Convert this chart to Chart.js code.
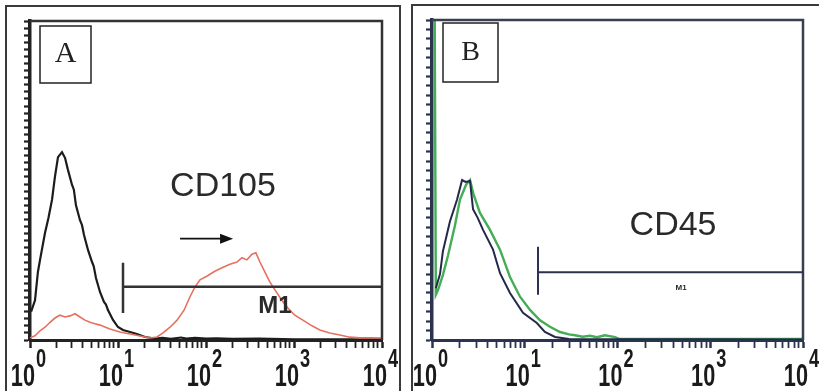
<!DOCTYPE html>
<html>
<head>
<meta charset="utf-8">
<script src="https://cdn.jsdelivr.net/npm/chart.js@4.4.1/dist/chart.umd.min.js"></script>
<style>
html, body { margin: 0; padding: 0; background: #fff; overflow: hidden; }
body { width: 819px; height: 391px; position: relative; }
.frame { position: absolute; border: 2px solid #3a3a3a; box-sizing: border-box; }
.wrap { position: absolute; }
</style>
</head>
<body>
<div class="frame" style="left:5px; top:5px; width:396px; height:420px;"></div>
<div class="frame" style="left:411px; top:4px; width:430px; height:420px;"></div>
<div class="wrap" style="left:6px; top:6px; width:392px; height:385px;"><canvas id="chartA"></canvas></div>
<div class="wrap" style="left:413px; top:6px; width:406px; height:385px;"><canvas id="chartB"></canvas></div>
<script>
// axis labels
const decades = [1, 10, 100, 1000, 10000];
const exponents = ['0', '1', '2', '3', '4'];

// Panel A - isotype control (black) and CD105 (red)
const ctrlA_x = [1.03, 1.14, 1.23, 1.30, 1.48, 1.62, 1.78, 1.92, 2.08, 2.31, 2.50, 2.70, 3.0, 3.15, 3.33, 3.70, 3.9, 4.11, 4.56, 5.07, 5.3, 5.62, 6.24, 6.93, 7.3, 7.69, 8.77, 9.99, 11.4, 13.7, 16.4, 20.3, 26.3, 32, 40, 52, 60, 75, 100, 130, 200, 400, 1000, 10000];
const ctrlA_y = [4.0, 5.6, 9.6, 11.3, 15.1, 17.2, 19.8, 23.0, 25.8, 26.5, 25.7, 24.0, 21.9, 21.2, 19.0, 16.9, 16.2, 14.8, 12.7, 11.0, 10.4, 8.75, 6.77, 5.36, 5.0, 4.23, 2.82, 1.83, 1.41, 1.13, 0.85, 0.42, 0.2, 0.3, 0.15, 0.35, 0.2, 0.3, 0.2, 0.25, 0.15, 0.2, 0.1, 0.1];
const cd105_x = [1.0, 1.14, 1.30, 1.48, 1.69, 1.92, 2.19, 2.50, 2.85, 3.25, 3.70, 4.21, 4.81, 5.47, 6.24, 8.10, 10.5, 13.7, 17.8, 23.1, 27.7, 32.5, 39.0, 46.9, 56.3, 65.8, 75, 85.5, 102, 126, 152, 187, 225, 256, 292, 333, 369, 410, 466, 531, 605, 727, 852, 1022, 1260, 1600, 1965, 2553, 3316, 4310, 5600, 7270, 10000];
const cd105_y = [0.3, 0.6, 1.3, 1.8, 2.5, 3.1, 3.5, 3.25, 3.4, 3.7, 3.25, 2.8, 2.5, 2.3, 2.1, 1.55, 1.13, 0.85, 0.56, 0.28, 0.42, 1.0, 1.8, 2.8, 4.2, 6.1, 7.5, 8.5, 9.0, 9.7, 10.2, 10.7, 11.0, 11.6, 11.3, 12.1, 12.3, 11.0, 9.6, 8.2, 7.1, 5.6, 4.5, 3.5, 2.8, 2.0, 1.4, 1.0, 0.7, 0.4, 0.3, 0.3, 0.28];

// Panel B - isotype control (navy) and CD45 (green)
const ctrlB_x = [1.1, 1.22, 1.31, 1.56, 1.86, 2.11, 2.3, 2.57, 2.77, 3.1, 3.55, 4.55, 5.41, 6.93, 9.57, 13.5, 16.5, 21.2, 30, 10000];
const ctrlB_y = [5.5, 7.0, 9.4, 12.6, 14.9, 17.0, 16.8, 16.9, 13.9, 13.0, 11.7, 9.6, 7.1, 5.0, 2.9, 1.8, 0.85, 0.32, 0.1, 0.05];
const cd45_x = [1.0, 1.064, 1.10, 1.16, 1.31, 1.49, 1.77, 2.0, 2.33, 2.57, 2.8, 3.29, 4.22, 5.41, 6.93, 8.89, 11.4, 14.6, 18.7, 24, 30, 34.8, 42, 50.5, 60, 73.3, 94, 106, 200, 10000];
const cd45_y = [40, 40, 4.8, 5.3, 6.9, 9.0, 12.2, 14.9, 16.5, 17.0, 15.5, 13.5, 11.7, 9.6, 6.7, 4.6, 3.2, 2.1, 1.4, 0.85, 0.6, 0.5, 0.35, 0.45, 0.3, 0.5, 0.3, 0.1, 0.1, 0.1];

const sans = '"Liberation Sans", Arial, sans-serif';
const serif = '"Liberation Serif", "Times New Roman", serif';

const axisTicks = [];
decades.slice(0, 4).forEach(d => { for (let k = 1; k <= 9; k++) axisTicks.push(d * k); });
axisTicks.push(10000);

function pts(xs, ys) {
  return xs.map((v, i) => ({ x: v, y: ys[i] }));
}

// condensed text: the cytometer labels are narrow and tall
function narrowText(ctx, text, x, y, size, align) {
  ctx.save();
  ctx.translate(x, y);
  ctx.scale(0.7, 1);
  ctx.font = 'bold ' + size + 'px ' + sans;
  ctx.textAlign = align;
  ctx.fillText(text, 0, 0);
  ctx.restore();
}

const panelPlugin = {
  id: 'panel',
  afterDraw(chart, args, o) {
    const { ctx, chartArea: a } = chart;
    const x = chart.scales.x, y = chart.scales.y;
    ctx.save();

    // top and right of the plot frame
    ctx.strokeStyle = o.frameColor;
    ctx.lineWidth = 2.5;
    ctx.beginPath();
    ctx.moveTo(a.left, a.top);
    ctx.lineTo(a.right, a.top);
    ctx.lineTo(a.right, a.bottom);
    ctx.stroke();

    // panel letter
    ctx.lineWidth = 1.5;
    ctx.strokeStyle = '#222';
    ctx.strokeRect(a.left + o.box[0], a.top + o.box[1], o.box[2], o.box[3]);
    ctx.fillStyle = '#222';
    ctx.font = o.letterSize + 'px ' + serif;
    ctx.textAlign = 'center';
    ctx.textBaseline = 'middle';
    ctx.fillText(o.letter, a.left + o.box[0] + o.box[2] / 2, a.top + o.box[1] + o.box[3] / 2);

    // marker name
    ctx.font = '34px ' + sans;
    ctx.fillStyle = '#2a2a2a';
    ctx.fillText(o.marker, x.getPixelForValue(o.markerAt[0]), y.getPixelForValue(o.markerAt[1]));

    // M1 gate
    const g = o.gate;
    const gx = x.getPixelForValue(g.from);
    ctx.strokeStyle = g.color;
    ctx.lineWidth = g.width;
    ctx.beginPath();
    ctx.moveTo(gx, y.getPixelForValue(g.hi));
    ctx.lineTo(gx, y.getPixelForValue(g.lo));
    ctx.moveTo(gx, y.getPixelForValue(g.level));
    ctx.lineTo(x.getPixelForValue(g.to), y.getPixelForValue(g.level));
    ctx.stroke();
    ctx.font = g.font;
    ctx.fillStyle = '#2a2a2a';
    ctx.fillText('M1', x.getPixelForValue(g.labelAt[0]), y.getPixelForValue(g.labelAt[1]));

    // arrow
    if (o.arrow) {
      const ax0 = x.getPixelForValue(o.arrow[0]);
      const ax1 = x.getPixelForValue(o.arrow[1]);
      const ay = y.getPixelForValue(o.arrow[2]);
      ctx.strokeStyle = '#111';
      ctx.lineWidth = 1.8;
      ctx.beginPath();
      ctx.moveTo(ax0, ay);
      ctx.lineTo(ax1 - 8, ay);
      ctx.stroke();
      ctx.fillStyle = '#111';
      ctx.beginPath();
      ctx.moveTo(ax1, ay);
      ctx.lineTo(ax1 - 13, ay - 5);
      ctx.lineTo(ax1 - 13, ay + 5);
      ctx.closePath();
      ctx.fill();
    }

    // decade labels 10^n
    ctx.fillStyle = '#1a1a1a';
    ctx.textBaseline = 'alphabetic';
    decades.forEach((v, i) => {
      const px = x.getPixelForValue(v);
      narrowText(ctx, '10', px + 5, a.bottom + 46, 31, 'right');
      narrowText(ctx, exponents[i], px + 6, a.bottom + 27, 26, 'left');
    });
    ctx.restore();
  }
};

function makeScales(yMax, yWidth, axisColor) {
  return {
    x: {
      type: 'logarithmic',
      min: 1,
      max: 10000,
      afterBuildTicks: s => { s.ticks = axisTicks.map(v => ({ value: v, major: decades.includes(v) })); },
      afterFit: s => { s.height = 51; },
      ticks: { display: false },
      grid: {
        drawOnChartArea: false,
        tickLength: 8,
        tickColor: axisColor,
        tickWidth: c => (c.tick && c.tick.major ? 2.5 : 1.8)
      },
      border: { display: true, color: axisColor, width: 3 }
    },
    y: {
      min: 0,
      max: yMax,
      afterFit: s => { s.width = yWidth; },
      ticks: { display: false, stepSize: 1 },
      grid: { drawOnChartArea: false, tickLength: 6, tickColor: axisColor, tickWidth: 2.2 },
      border: { display: true, color: axisColor, width: 3.5 }
    }
  };
}

const common = {
  responsive: true,
  maintainAspectRatio: false,
  animation: false,
  events: [],
  elements: { point: { radius: 0 }, line: { tension: 0 } },
  plugins: { legend: { display: false }, tooltip: { enabled: false } }
};

new Chart(document.getElementById('chartA'), {
  type: 'line',
  data: {
    datasets: [
      { label: 'CD105', data: pts(cd105_x, cd105_y), borderColor: '#e8705f', borderWidth: 1.6 },
      { label: 'Control', data: pts(ctrlA_x, ctrlA_y), borderColor: '#1c1c1c', borderWidth: 2.2 }
    ]
  },
  options: {
    ...common,
    layout: { padding: { top: 15, right: 16, left: 0, bottom: 0 } },
    scales: makeScales(45, 24, '#222'),
    plugins: {
      ...common.plugins,
      panel: {
        frameColor: '#333',
        box: [10, 5, 51, 57],
        letter: 'A',
        letterSize: 30,
        marker: 'CD105',
        markerAt: [156, 21.6],
        gate: { from: 11.4, to: 10000, level: 7.5, lo: 3.8, hi: 10.9, color: '#333', width: 2.5,
                labelAt: [608, 4.8], font: '600 24px ' + sans },
        arrow: [50.7, 203, 14.3]
      }
    }
  },
  plugins: [panelPlugin]
});

new Chart(document.getElementById('chartB'), {
  type: 'line',
  data: {
    datasets: [
      { label: 'Control', data: pts(ctrlB_x, ctrlB_y), borderColor: '#232a48', borderWidth: 2 },
      { label: 'CD45', data: pts(cd45_x, cd45_y), borderColor: '#45ad55', borderWidth: 2.4 }
    ]
  },
  options: {
    ...common,
    layout: { padding: { top: 14, right: 16, left: 0, bottom: 0 } },
    scales: makeScales(34, 19, '#2c3350'),
    plugins: {
      ...common.plugins,
      panel: {
        frameColor: '#3a3f50',
        box: [11, 3, 55, 59],
        letter: 'B',
        letterSize: 28,
        marker: 'CD45',
        markerAt: [397, 12.1],
        gate: { from: 13.9, to: 10000, level: 7.2, lo: 4.8, hi: 9.9, color: '#2c3350', width: 2,
                labelAt: [484, 5.5], font: 'bold 8px ' + sans },
        arrow: null
      }
    }
  },
  plugins: [panelPlugin]
});
</script>
</body>
</html>
